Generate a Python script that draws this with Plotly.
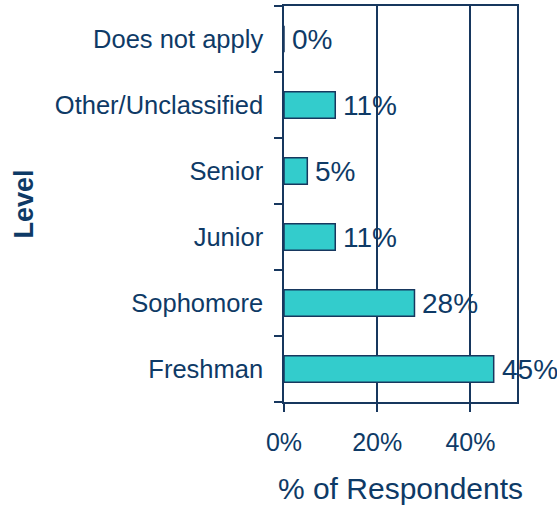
import plotly.graph_objects as go

# categories listed bottom to top
levels = ['Freshman', 'Sophomore', 'Junior', 'Senior', 'Other/Unclassified', 'Does not apply']
pct = [45, 28, 11, 5, 11, 0]
x_ticks = [0, 20, 40]
x_tick_labels = ['0%', '20%', '40%']

NAVY = '#17375E'
TEXT = '#0E3A66'
TEAL = '#33CCCC'
FONT = 'Liberation Sans, Arial, sans-serif'

fig = go.Figure()

fig.add_trace(go.Bar(
    x=pct,
    y=levels,
    orientation='h',
    width=0.4,
    marker=dict(color=TEAL, line=dict(color=NAVY, width=1.5)),
    hoverinfo='skip',
))

# value labels just past the end of each bar
for lvl, v in zip(levels, pct):
    fig.add_annotation(
        x=v, y=lvl, text=f'{v}%',
        xanchor='left', yanchor='middle', xshift=6,
        showarrow=False,
        font=dict(family=FONT, size=28, color=TEXT),
    )

fig.update_layout(
    width=557,
    height=505,
    margin=dict(l=284, r=40, t=6, b=103),
    plot_bgcolor='white',
    paper_bgcolor='white',
    showlegend=False,
    font=dict(family=FONT, color=TEXT),
    xaxis=dict(
        range=[0, 50],
        tickvals=x_ticks,
        ticktext=x_tick_labels,
        ticks='outside',
        ticklen=8,
        tickwidth=1.5,
        tickcolor=NAVY,
        showline=True,
        linecolor=NAVY,
        linewidth=1.5,
        mirror=True,
        showgrid=True,
        gridcolor=NAVY,
        gridwidth=1.5,
        zeroline=False,
        automargin=False,
        tickfont=dict(size=25, color=TEXT),
        ticklabelstandoff=9,
        title=dict(text='% of Respondents', font=dict(size=30, color=TEXT), standoff=25),
    ),
    yaxis=dict(
        categoryorder='array',
        categoryarray=levels,
        ticks='outside',
        tickson='boundaries',
        ticklen=8,
        tickwidth=1.5,
        tickcolor=NAVY,
        showline=True,
        linecolor=NAVY,
        linewidth=1.5,
        mirror=True,
        showgrid=False,
        zeroline=False,
        automargin=False,
        tickfont=dict(size=25.5, color=TEXT),
        ticklabelstandoff=14,
        title=dict(text='<b>Level</b>', font=dict(size=27, color=TEXT), standoff=13),
    ),
)

fig.write_html('out.html', config={'displayModeBar': False},
               post_script="document.body.style.margin='0';")
